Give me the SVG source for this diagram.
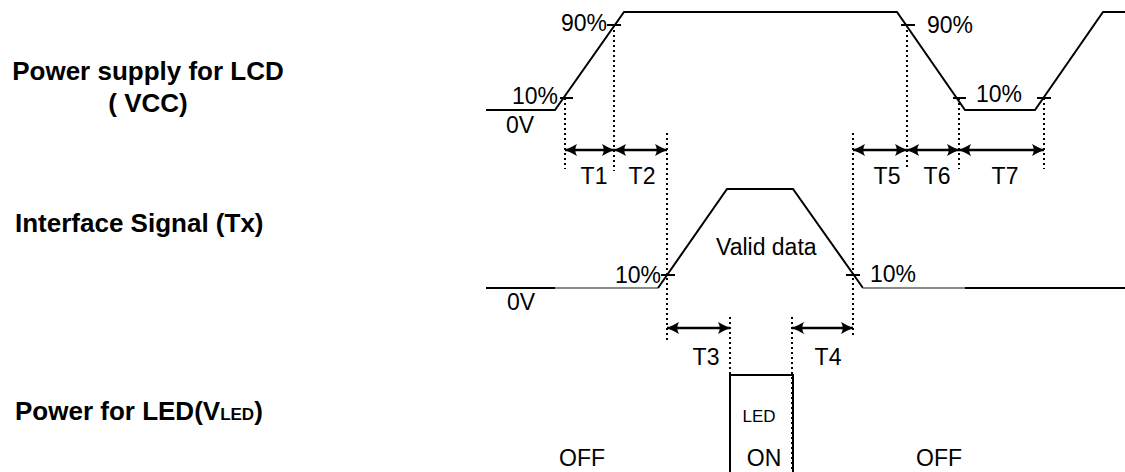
<svg xmlns="http://www.w3.org/2000/svg" width="1125" height="472" viewBox="0 0 1125 472">
<style>
.t{font-family:"Liberation Sans",Arial,sans-serif;font-size:23px;fill:#000}
.b{font-family:"Liberation Sans",Arial,sans-serif;font-size:26px;font-weight:bold;fill:#000}
.w{fill:none;stroke:#000;stroke-width:2}
.g{fill:none;stroke:#8a8a8a;stroke-width:2}
.k{stroke:#000;stroke-width:2}
.d{stroke:#000;stroke-width:2;stroke-dasharray:2 3}
.a{stroke:#000;stroke-width:2.5;marker-start:url(#ah);marker-end:url(#ah)}
</style>
<defs>
<marker id="ah" viewBox="0 0 12 12" refX="12" refY="6" markerWidth="12" markerHeight="12" markerUnits="userSpaceOnUse" orient="auto-start-reverse">
<path d="M12,6 Q6,3.5 0,0 Q3.5,6 0,12 Q6,8.5 12,6 Z" fill="#000"/>
</marker>
</defs>
<rect width="1125" height="472" fill="#fff"/>

<g id="label-vcc">
<text class="b" x="148" y="80" text-anchor="middle">Power supply for LCD</text>
<text class="b" x="148" y="112" text-anchor="middle">( VCC)</text>
</g>
<g id="label-tx">
<text class="b" x="15" y="232">Interface Signal (Tx)</text>
</g>
<g id="label-led">
<text class="b" x="15" y="420">Power for LED(V<tspan font-size="17">LED</tspan>)</text>
</g>

<g id="wave-vcc">
<path class="w" d="M486,110 H555 L624,12 H897 L965,110 H1035 L1103,12 H1125"/>
<line class="k" x1="560" y1="98" x2="573" y2="98"/>
<line class="k" x1="607" y1="25" x2="621" y2="25"/>
<line class="k" x1="901" y1="25" x2="915" y2="25"/>
<line class="k" x1="953" y1="98" x2="966" y2="98"/>
<line class="k" x1="1037" y1="98" x2="1051" y2="98"/>
<text class="t" x="607" y="31" text-anchor="end">90%</text>
<text class="t" x="558" y="104" text-anchor="end">10%</text>
<text class="t" x="506" y="133">0V</text>
<text class="t" x="927" y="33">90%</text>
<text class="t" x="976" y="102">10%</text>
<text class="t" x="594" y="184" text-anchor="middle">T1</text>
<text class="t" x="642" y="184" text-anchor="middle">T2</text>
<text class="t" x="887" y="184" text-anchor="middle">T5</text>
<text class="t" x="937" y="184" text-anchor="middle">T6</text>
<text class="t" x="1005" y="184" text-anchor="middle">T7</text>
</g>

<g id="wave-tx">
<path class="w" d="M486,288 H555"/>
<path class="g" d="M555,288 H658"/>
<path class="w" d="M658,288 L727,189 H793 L863,288"/>
<path class="g" d="M863,288 H965"/>
<path class="w" d="M965,288 H1125"/>
<line class="k" x1="661" y1="275" x2="675" y2="275"/>
<line class="k" x1="846" y1="275" x2="860" y2="275"/>
<text class="t" x="661" y="283" text-anchor="end">10%</text>
<text class="t" x="870" y="282">10%</text>
<text class="t" x="507" y="310">0V</text>
<text class="t" x="716" y="255">Valid data</text>
<text class="t" x="706" y="365" text-anchor="middle">T3</text>
<text class="t" x="828" y="365" text-anchor="middle">T4</text>
</g>

<g id="wave-led">
<path class="w" d="M730,472 V375 H793 V472"/>
<text x="759" y="422" text-anchor="middle" style="font-family:'Liberation Sans',Arial,sans-serif;font-size:17px">LED</text>
<text class="t" x="764" y="466" text-anchor="middle">ON</text>
<text class="t" x="559" y="466">OFF</text>
<text class="t" x="916" y="466">OFF</text>
</g>

<g id="connectors">
<line class="d" x1="565" y1="98" x2="565" y2="169"/>
<line class="d" x1="614" y1="25" x2="614" y2="171"/>
<line class="d" x1="667" y1="133" x2="667" y2="342"/>
<line class="d" x1="907" y1="25" x2="907" y2="169"/>
<line class="d" x1="959" y1="98" x2="959" y2="169"/>
<line class="d" x1="1044" y1="98" x2="1044" y2="169"/>
<line class="d" x1="853" y1="133" x2="853" y2="337"/>
<line class="d" x1="730" y1="317" x2="730" y2="472"/>
<line class="d" x1="792" y1="317" x2="792" y2="472"/>
<line class="a" x1="565" y1="150" x2="614" y2="150"/>
<line class="a" x1="614" y1="150" x2="667" y2="150"/>
<line class="a" x1="853" y1="150" x2="907" y2="150"/>
<line class="a" x1="907" y1="150" x2="959" y2="150"/>
<line class="a" x1="959" y1="150" x2="1044" y2="150"/>
<line class="a" x1="667" y1="328" x2="730" y2="328"/>
<line class="a" x1="792" y1="328" x2="853" y2="328"/>
</g>
</svg>
